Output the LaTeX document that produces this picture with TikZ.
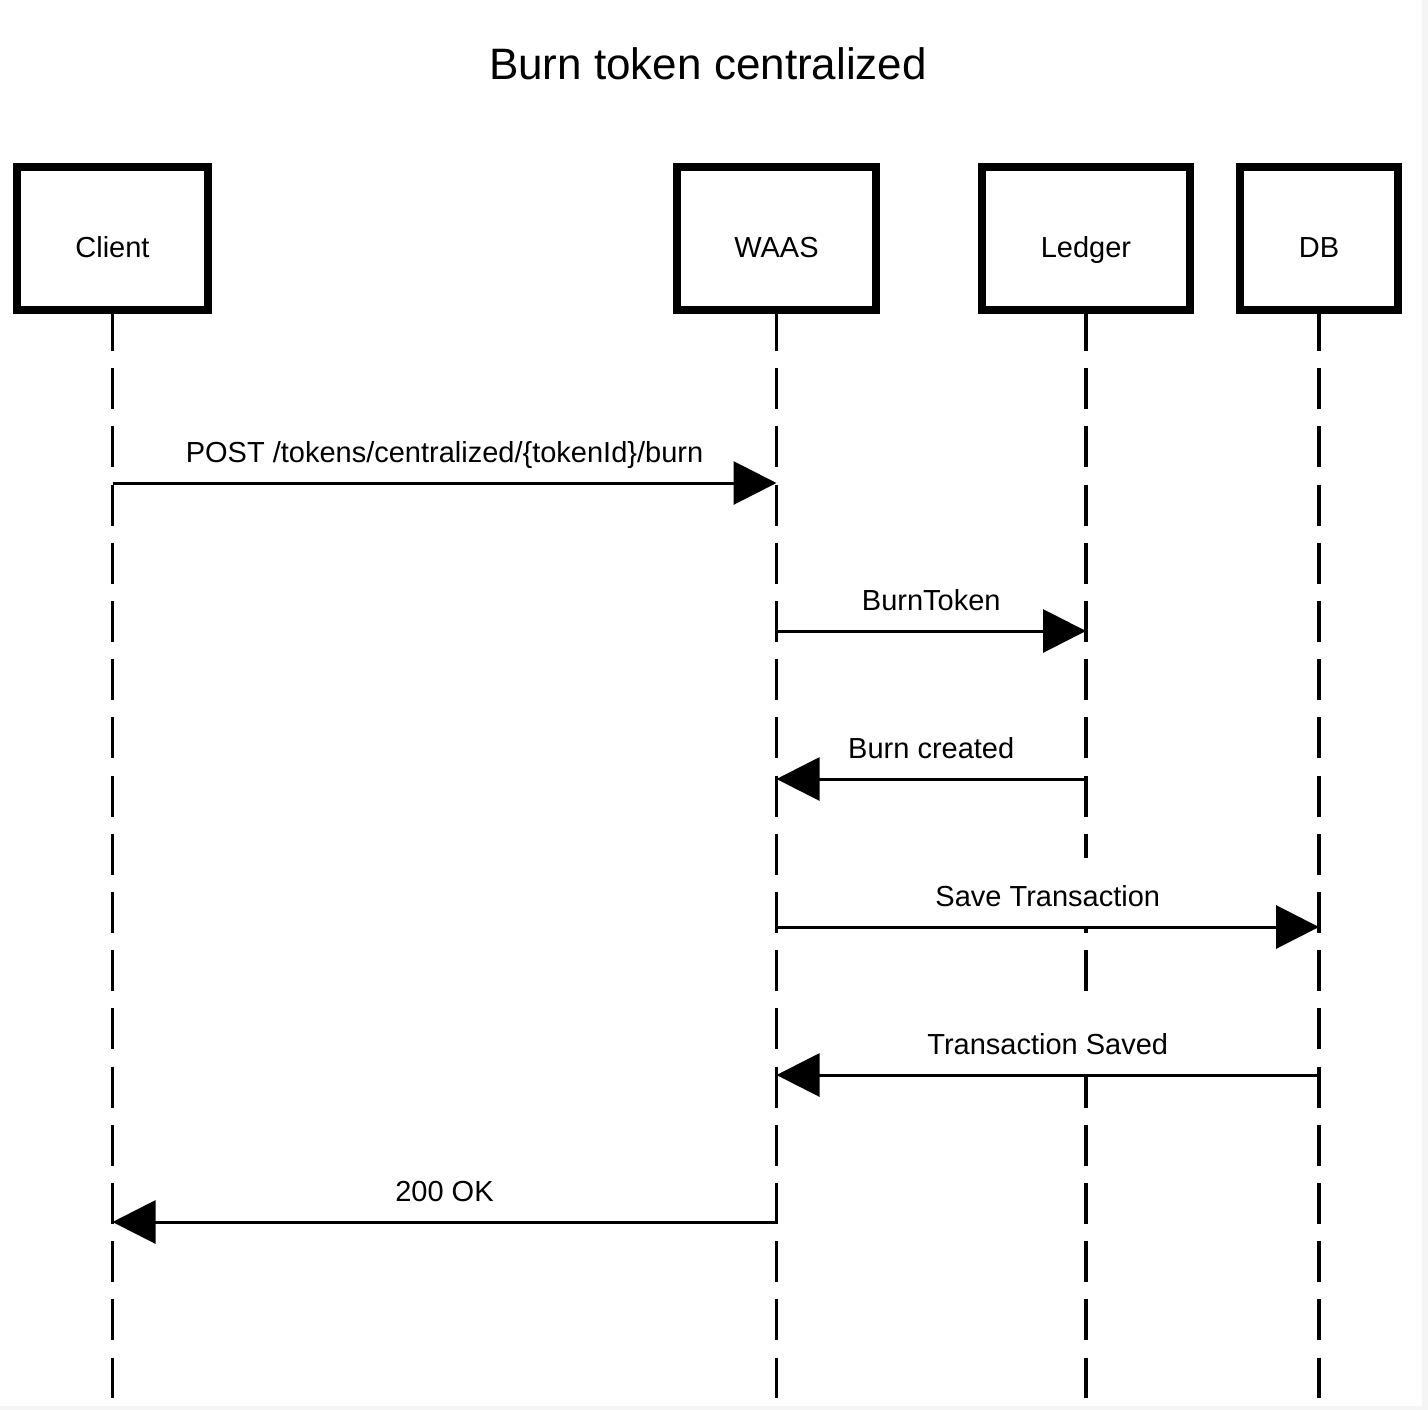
\documentclass[tikz,border=0pt]{standalone}
\usepackage{fontspec}
\setmainfont{Liberation Sans}
\usetikzlibrary{arrows.meta}
\begin{document}
\begin{tikzpicture}[x=1bp,y=-1bp,
  actor/.style={draw=black, line width=8.5bp, fill=white, inner sep=0pt, outer sep=0pt,
    minimum height=143bp, text height=37bp, text depth=0bp,
    font=\fontsize{29bp}{34bp}\selectfont},
  lifeline/.style={draw=black, line width=3.5bp, dash pattern=on 41bp off 17.2bp},
  msg/.style={draw=black, line width=3bp, -{Triangle[length=43bp,width=43bp]}},
  lbl/.style={font=\fontsize{29bp}{34bp}\selectfont, fill=white, inner xsep=2bp, inner ysep=0pt,
    text height=48bp, text depth=19.5bp, anchor=base, yshift=21bp},
  titlestyle/.style={font=\fontsize{44bp}{52bp}\selectfont, inner sep=0pt, anchor=base}
]
% background
\fill[black!4] (0,0) rectangle (1428,1410);
\fill[white] (0,0) rectangle (1422,1406);
\useasboundingbox (0,0) rectangle (1428,1410);

% title
\node[titlestyle] (title) at (708,80) {Burn token centralized};

% actors
\node[actor, minimum width=191bp] (client) at (112.5,238.5) {Client};
\node[actor, minimum width=199bp] (waas)   at (776.5,238.5) {WAAS};
\node[actor, minimum width=208bp] (ledger) at (1086,238.5)  {Ledger};
\node[actor, minimum width=158bp] (db)     at (1319,238.5)  {DB};

% lifeline ends
\coordinate (clientend) at (client |- 0,1398);
\coordinate (waasend)   at (waas |- 0,1398);
\coordinate (ledgerend) at (ledger |- 0,1398);
\coordinate (dbend)     at (db |- 0,1398);

\draw[lifeline] (client.south) -- (clientend);
\draw[lifeline] (waas.south) -- (waasend);
\draw[lifeline] (ledger.south) -- (ledgerend);
\draw[lifeline] (db.south) -- (dbend);

% message anchor points
\coordinate (c1) at (client |- 0,483);
\coordinate (w1) at (waas |- 0,483);
\coordinate (w2) at (waas |- 0,631);
\coordinate (l2) at (ledger |- 0,631);
\coordinate (l3) at (ledger |- 0,779);
\coordinate (w3) at (waas |- 0,779);
\coordinate (w4) at (waas |- 0,927);
\coordinate (d4) at (db |- 0,927);
\coordinate (d5) at (db |- 0,1075);
\coordinate (w5) at (waas |- 0,1075);
\coordinate (w6) at (waas |- 0,1222);
\coordinate (c6) at (client |- 0,1222);

% messages
\draw[msg] (c1) -- (w1) node[lbl, midway] {POST /tokens/centralized/\{tokenId\}/burn};
\draw[msg] (w2) -- (l2) node[lbl, midway] {BurnToken};
\draw[msg] (l3) -- (w3) node[lbl, midway] {Burn created};
\draw[msg] (w4) -- (d4) node[lbl, midway] {Save Transaction};
\draw[msg] (d5) -- (w5) node[lbl, midway] {Transaction Saved};
\draw[msg] (w6) -- (c6) node[lbl, midway] {200 OK};
\end{tikzpicture}
\end{document}
